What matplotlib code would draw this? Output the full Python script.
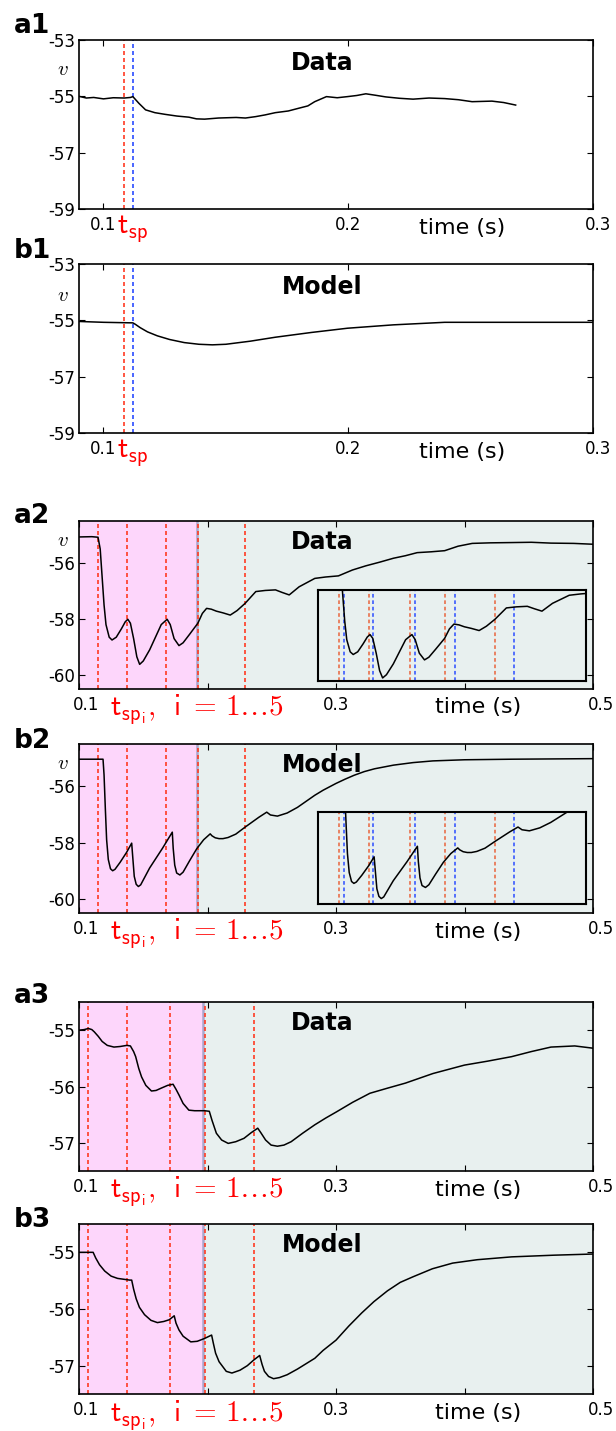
import matplotlib
matplotlib.use("Agg")
import matplotlib.pyplot as plt
from matplotlib.transforms import ScaledTranslation

plt.rcParams['font.family'] = ['DejaVu Sans']
plt.rcParams['mathtext.fontset'] = 'cm'

# ---- data ----
# panel 1: single spike
a1_t = [0.090, 0.093, 0.096, 0.100, 0.104, 0.1085, 0.111, 0.112, 0.1145, 0.1172, 0.121, 0.1252,
        0.130, 0.1349, 0.138, 0.1413, 0.147, 0.1542, 0.158, 0.1622, 0.166, 0.1702, 0.1755,
        0.1799, 0.1835, 0.1863, 0.1911, 0.1955, 0.1997, 0.2035, 0.2072, 0.211, 0.2153, 0.221,
        0.2265, 0.233, 0.2394, 0.2450, 0.2506, 0.2587, 0.2635, 0.2684]
a1_v = [-55.00, -55.06, -55.04, -55.09, -55.05, -55.06, -55.04, -55.01, -55.25, -55.48, -55.58,
        -55.64, -55.70, -55.74, -55.80, -55.81, -55.77, -55.75, -55.77, -55.72, -55.66, -55.58,
        -55.52, -55.42, -55.34, -55.19, -55.01, -55.05, -55.01, -54.97, -54.91, -54.96, -55.02,
        -55.07, -55.10, -55.06, -55.08, -55.12, -55.19, -55.17, -55.22, -55.31]

b1_t = [0.090, 0.100, 0.112, 0.113, 0.115, 0.118, 0.122, 0.127, 0.133, 0.139, 0.1445, 0.150,
        0.160, 0.1702, 0.1850, 0.1997, 0.2185, 0.2394, 0.260, 0.300]
b1_v = [-55.04, -55.07, -55.09, -55.14, -55.26, -55.41, -55.55, -55.68, -55.79, -55.85, -55.87,
        -55.85, -55.74, -55.60, -55.43, -55.28, -55.16, -55.07, -55.07, -55.07]

spk1_red = [0.1085]
spk1_blue = [0.112]

# panel 2: five spikes
a2_t = [0.100, 0.110, 0.1148, 0.1165, 0.118, 0.1195, 0.121, 0.1235, 0.1257, 0.129, 0.133, 0.136,
        0.138, 0.140, 0.1425, 0.145, 0.1472, 0.150, 0.155, 0.160, 0.164, 0.1686, 0.171, 0.174,
        0.1778, 0.181, 0.186, 0.1925, 0.196, 0.1993, 0.203, 0.2069, 0.212, 0.2177, 0.223, 0.2293,
        0.2376, 0.245, 0.2529, 0.258, 0.2636, 0.2713, 0.2835, 0.2919, 0.3019, 0.3128, 0.3233,
        0.334, 0.3447, 0.354, 0.3632, 0.374, 0.3846, 0.395, 0.406, 0.420, 0.4367, 0.452, 0.4673,
        0.485, 0.500]
a2_v = [-55.07, -55.06, -55.08, -55.50, -56.50, -57.50, -58.20, -58.65, -58.75, -58.65, -58.35, -58.10,
        -58.01, -58.15, -58.70, -59.35, -59.62, -59.50, -59.10, -58.60, -58.20, -58.01, -58.20, -58.70,
        -58.95, -58.85, -58.55, -58.15, -57.80, -57.62, -57.65, -57.72, -57.78, -57.86, -57.70, -57.44,
        -57.02, -56.98, -56.96, -57.05, -57.14, -56.85, -56.55, -56.50, -56.46, -56.25, -56.10,
        -55.97, -55.83, -55.74, -55.63, -55.60, -55.56, -55.40, -55.30, -55.28, -55.27, -55.26, -55.29,
        -55.30, -55.33]

b2_t = [0.100, 0.1187, 0.1195, 0.1205, 0.1215, 0.1228, 0.1245, 0.1262, 0.128, 0.132, 0.137, 0.141,
        0.1418, 0.143, 0.1445, 0.1462, 0.148, 0.155, 0.165, 0.1726, 0.1733, 0.1745, 0.176, 0.1785,
        0.181, 0.186, 0.1916, 0.197, 0.2021, 0.2035, 0.206, 0.209, 0.212, 0.216, 0.222, 0.2293,
        0.240, 0.2461, 0.249, 0.2544, 0.262, 0.270, 0.2835, 0.290, 0.300, 0.307, 0.3141, 0.322,
        0.330, 0.3448, 0.360, 0.3754, 0.400, 0.4367, 0.500]
b2_v = [-55.04, -55.04, -55.60, -56.80, -57.90, -58.60, -58.93, -59.00, -58.95, -58.70, -58.35, -58.02,
        -58.50, -59.20, -59.48, -59.56, -59.50, -58.90, -58.20, -57.63, -58.20, -58.80, -59.08, -59.15,
        -59.05, -58.65, -58.22, -57.90, -57.69, -57.76, -57.83, -57.86, -57.86, -57.82, -57.70, -57.45,
        -57.10, -56.92, -57.02, -57.06, -56.95, -56.75, -56.32, -56.14, -55.90, -55.75, -55.61, -55.48,
        -55.38, -55.25, -55.16, -55.10, -55.06, -55.04, -55.02]

spk2_red = [0.115, 0.137, 0.1675, 0.1928, 0.2293]
spk2_blue = [0.119, 0.140, 0.171, 0.200, 0.243]

# panel 3: five spikes, smaller amplitude
a3_t = [0.100, 0.104, 0.1073, 0.110, 0.1119, 0.115, 0.118, 0.122, 0.1272, 0.132, 0.1373, 0.140,
        0.1425, 0.1441, 0.1465, 0.1487, 0.152, 0.1564, 0.160, 0.1639, 0.169, 0.1732, 0.1755,
        0.1778, 0.181, 0.1855, 0.190, 0.1977, 0.2014, 0.2035, 0.2069, 0.211, 0.2161, 0.222,
        0.2284, 0.234, 0.2391, 0.2415, 0.2452, 0.2495, 0.2544, 0.2595, 0.2651, 0.274, 0.2835,
        0.292, 0.3004, 0.313, 0.3264, 0.340, 0.354, 0.3754, 0.400, 0.418, 0.4367, 0.452, 0.4673,
        0.4858, 0.500]
a3_v = [-55.00, -54.99, -54.97, -54.99, -55.03, -55.11, -55.20, -55.27, -55.30, -55.29, -55.27, -55.28,
        -55.38, -55.47, -55.68, -55.83, -55.98, -56.08, -56.07, -56.03, -55.98, -55.96, -56.05,
        -56.15, -56.30, -56.42, -56.43, -56.43, -56.44, -56.60, -56.83, -56.95, -57.01, -56.98,
        -56.92, -56.82, -56.74, -56.82, -56.95, -57.04, -57.06, -57.04, -56.98, -56.83, -56.68,
        -56.56, -56.45, -56.28, -56.12, -56.03, -55.94, -55.77, -55.62, -55.55, -55.47, -55.38, -55.30,
        -55.28, -55.32]

b3_t = [0.100, 0.111, 0.113, 0.116, 0.120, 0.125, 0.130, 0.1395, 0.141, 0.1425, 0.1445, 0.147,
        0.151, 0.156, 0.161, 0.166, 0.1702, 0.1741, 0.1755, 0.1778, 0.181, 0.187, 0.192, 0.1977,
        0.2032, 0.2045, 0.2063, 0.209, 0.2146, 0.219, 0.2253, 0.231, 0.236, 0.2406, 0.2425,
        0.2443, 0.2475, 0.2514, 0.256, 0.262, 0.270, 0.2835, 0.290, 0.300, 0.310, 0.320, 0.3295,
        0.340, 0.350, 0.3601, 0.375, 0.3908, 0.410, 0.4367, 0.470, 0.500]
b3_v = [-55.00, -55.00, -55.10, -55.22, -55.33, -55.42, -55.46, -55.49, -55.49, -55.65, -55.82, -55.97,
        -56.10, -56.20, -56.24, -56.22, -56.19, -56.12, -56.25, -56.37, -56.48, -56.58, -56.57, -56.52,
        -56.46, -56.60, -56.78, -56.93, -57.10, -57.13, -57.08, -57.00, -56.90, -56.82, -56.98,
        -57.10, -57.19, -57.23, -57.21, -57.16, -57.06, -56.87, -56.73, -56.55, -56.30, -56.07, -55.87,
        -55.68, -55.53, -55.43, -55.29, -55.19, -55.13, -55.08, -55.05, -55.03]

spk3_red = [0.107, 0.137, 0.1707, 0.198, 0.236]

# ---- styles ----
RED = '#ff3a22'
RED_IN = '#e8643c'
BLUE = '#2a4cff'
PINK = '#fdd6fb'
GREY = '#e8f0ef'
DASH = (0, (2.4, 1.8))

fig = plt.figure(figsize=(6.16, 14.31), dpi=100)
W, H = 616.0, 1431.0


def make_ax(top, bottom):
    return fig.add_axes([79 / W, 1 - bottom / H, (593 - 79) / W, (bottom - top) / H])


def style(ax):
    ax.tick_params(direction='in', top=True, right=True, length=4, width=0.8,
                   labelsize=12, pad=5)
    ax.tick_params(axis='y', pad=3)
    for s in ax.spines.values():
        s.set_linewidth(1.2)


def shift_label(ax, idx, dx):
    off = ScaledTranslation(dx / 100.0, 0, fig.dpi_scale_trans)
    lab = ax.xaxis.get_major_ticks()[idx].label1
    lab.set_transform(lab.get_transform() + off)


panels = [
    ('a1', 40, 209, a1_t, a1_v, 'Data', 33),
    ('b1', 264, 433, b1_t, b1_v, 'Model', 258),
]
for name, top, bot, t, v, title, base in panels:
    ax = make_ax(top, bot)
    style(ax)
    for x in spk1_red:
        ax.axvline(x, color=RED, ls=DASH, lw=1.2)
    for x in spk1_blue:
        ax.axvline(x, color=BLUE, ls=DASH, lw=1.2)
    ax.plot(t, v, color='black', lw=1.1)
    ax.set_xlim(0.09, 0.3)
    ax.set_ylim(-59, -53)
    ax.set_yticks([-53, -55, -57, -59])
    ax.set_yticklabels(['-53', '-55', '-57', '-59'])
    ax.set_xticks([0.1, 0.2, 0.3])
    ax.set_xticklabels(['0.1', '0.2', '0.3'])
    ax.text(0.473, 0.864, title, transform=ax.transAxes, ha='center', va='center',
            fontsize=17, fontweight='bold')
    ax.text(-0.031, 0.83 if name == 'a1' else 0.815, r'$v$', transform=ax.transAxes,
            ha='center', va='center', fontsize=15)
    ax.text(0.073, -0.115, r'$\mathsf{t_{sp}}$', transform=ax.transAxes, ha='left',
            va='center', fontsize=21, color='red')
    ax.text(0.745, -0.11, 'time (s)', transform=ax.transAxes, ha='center', va='center',
            fontsize=16)
    shift_label(ax, 2, 5)
    fig.text(14 / W, 1 - base / H, name, fontsize=19, fontweight='bold', va='baseline')

panels = [
    ('a2', 521, 689, a2_t, a2_v, 'Data', 523, spk2_red, 0.1916, (-60.5, -54.5),
     [-56, -58, -60], 0.045, 0.887),
    ('b2', 744, 913, b2_t, b2_v, 'Model', 748, spk2_red, 0.1916, (-60.5, -54.5),
     [-56, -58, -60], 0.055, 0.887),
    ('a3', 1002, 1171, a3_t, a3_v, 'Data', 1003, spk3_red, 0.1965, (-57.5, -54.5),
     [-55, -56, -57], None, None),
    ('b3', 1224, 1394, b3_t, b3_v, 'Model', 1227, spk3_red, 0.1965, (-57.5, -54.5),
     [-55, -56, -57], None, None),
]
for name, top, bot, t, v, title, base, red, pink_end, ylim, yt, inset_y, v_y in panels:
    ax = make_ax(top, bot)
    style(ax)
    ax.set_facecolor(GREY)
    ax.axvspan(0.1, pink_end, color=PINK, lw=0, zorder=0)
    ax.axvline(pink_end, color='#aaa6cc', lw=1.8, zorder=1)
    for x in red:
        ax.axvline(x, color=RED, ls=DASH, lw=1.2, zorder=2)
    ax.plot(t, v, color='black', lw=1.1, zorder=3)
    ax.set_xlim(0.1, 0.5)
    ax.set_ylim(*ylim)
    ax.set_yticks(yt)
    ax.set_yticklabels([str(y) for y in yt])
    ax.set_xticks([0.1, 0.2, 0.3, 0.4, 0.5])
    ax.set_xticklabels(['0.1', '', '0.3', '', '0.5'])
    ax.text(0.473, 0.875, title, transform=ax.transAxes, ha='center', va='center',
            fontsize=17, fontweight='bold', zorder=5)
    if v_y is not None:
        ax.text(-0.031, v_y, r'$v$', transform=ax.transAxes, ha='center', va='center',
                fontsize=15)
    ax.text(0.06, -0.155,
            r'$\mathsf{t_{sp_i}},\ \,\mathsf{i}\;=\,\mathsf{1\ldots5}$',
            transform=ax.transAxes, ha='left', va='baseline', fontsize=21, color='red')
    ax.text(0.776, -0.11, 'time (s)', transform=ax.transAxes, ha='center', va='center',
            fontsize=16)
    shift_label(ax, 0, 7)
    shift_label(ax, 4, 8)
    fig.text(14 / W, 1 - base / H, name, fontsize=19, fontweight='bold', va='baseline')

    if inset_y is not None:
        ins = ax.inset_axes([0.465, inset_y, 0.522, 0.545])
        ins.set_facecolor(GREY)
        for x in red:
            ins.axvline(x, color=RED_IN, ls=DASH, lw=1.1)
        for x in spk2_blue:
            ins.axvline(x, color=BLUE, ls=DASH, lw=1.1)
        ins.plot(t, v, color='black', lw=1.1)
        ins.set_xlim(0.1, 0.296)
        ins.set_ylim(-59.75, -56.35)
        ins.set_xticks([])
        ins.set_yticks([])
        for s in ins.spines.values():
            s.set_linewidth(1.5)

fig.savefig('out.png', dpi=100)
